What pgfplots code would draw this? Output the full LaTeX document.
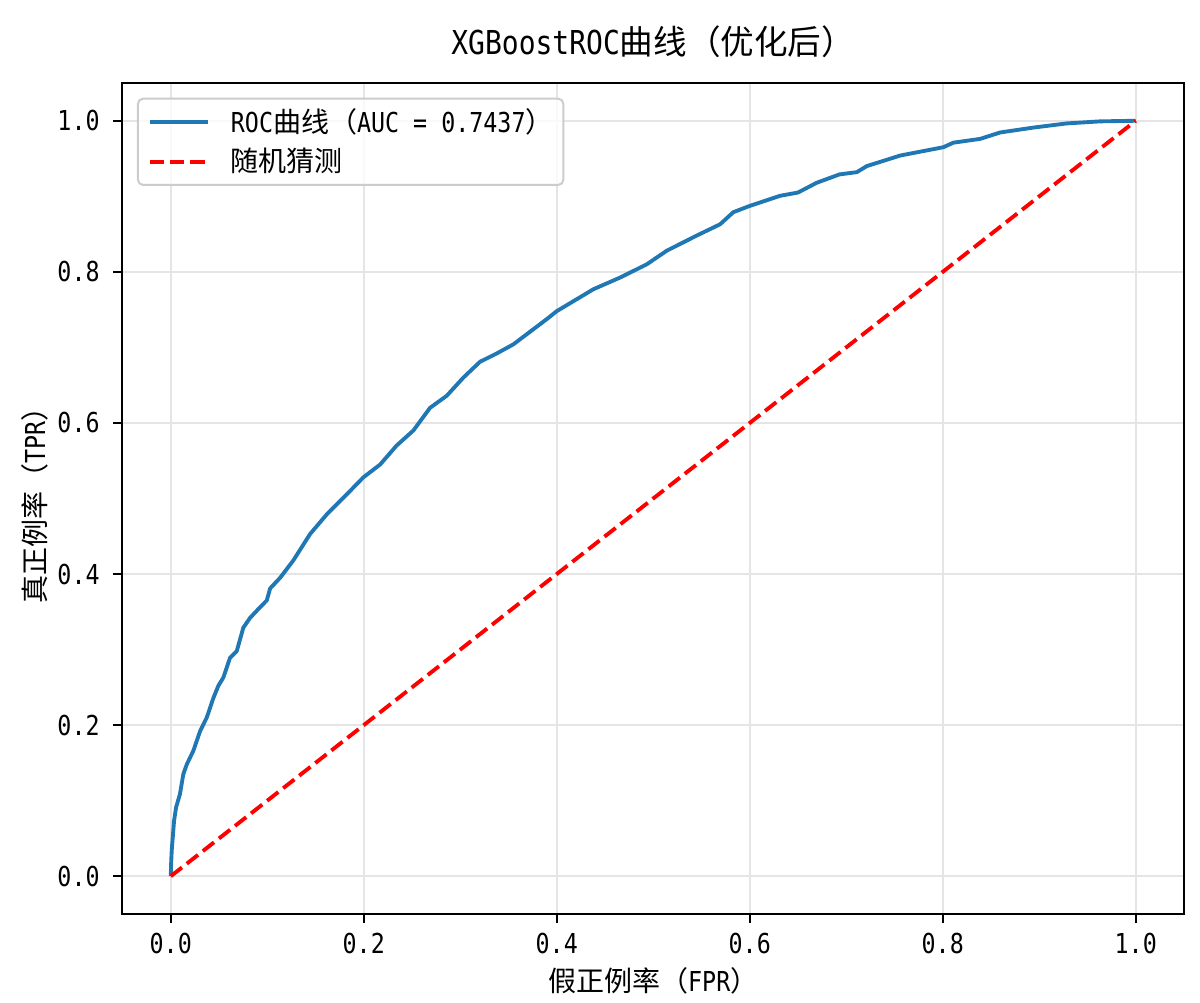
\documentclass[border=0pt]{standalone}
\usepackage{fontspec}
\setmainfont{Noto Sans CJK SC}
\newfontfamily\lt[FakeStretch=0.85,Scale=0.98]{DejaVu Sans Mono}
\usepackage{pgfplots}
\pgfplotsset{compat=1.18}
\definecolor{mplblue}{HTML}{1F77B4}
\definecolor{gridc}{HTML}{E5E5E5}
\definecolor{legendc}{HTML}{CCCCCC}
\newcommand\lstrut{\rule[-2pt]{0pt}{12pt}}
\begin{document}
\begin{tikzpicture}
\path[use as bounding box] (0,0) rectangle (600pt,501pt);
\begin{axis}[
    at={(61.25pt,44pt)}, anchor=south west,
    scale only axis, width=530.75pt, height=415.5pt,
    xmin=-0.05, xmax=1.05, ymin=-0.05, ymax=1.05,
    xtick={0,0.2,0.4,0.6,0.8,1},
    ytick={0,0.2,0.4,0.6,0.8,1},
    xticklabels={0.0,0.2,0.4,0.6,0.8,1.0},
    yticklabels={0.0,0.2,0.4,0.6,0.8,1.0},
    tick pos=left, tick align=outside,
    major tick length=4.5pt,
    tick style={line width=1pt, black},
    axis line style={line width=1pt},
    grid=major, grid style={line width=1pt, gridc},
    ticklabel style={font=\fontsize{14}{16}\selectfont\lt, inner sep=0pt},
    xticklabel style={anchor=base, yshift=-15.15pt},
    yticklabel style={anchor=east, xshift=-6.75pt},
    title={{\lt XGBoostROC}曲线（优化后）},
    title style={at={(axis description cs:0.5,1.0196)}, anchor=base, inner sep=0pt,
        font=\fontsize{16.8}{20}\selectfont},
    xlabel={假正例率（{\lt FPR}）},
    ylabel={真正例率（{\lt TPR}）},
    label style={font=\fontsize{14}{16}\selectfont, inner sep=0pt},
    xlabel style={at={(axis description cs:0.5,-0.0935)}, anchor=base},
    ylabel style={at={(axis description cs:-0.073,0.5)}, anchor=base},
    legend style={at={(axis description cs:0,1)}, anchor=north west,
        xshift=7.25pt, yshift=-7.35pt,
        draw=legendc, line width=1pt, rounded corners=2.5pt,
        fill=white, fill opacity=0.8, draw opacity=1, text opacity=1,
        inner xsep=4.85pt, inner ysep=5pt, row sep=6.35pt,
        nodes={inner sep=0pt},
        font=\fontsize{14}{16}\selectfont},
    legend cell align=left,
    legend image code/.code={
        \draw[#1] (0pt,0pt) -- (29.2pt,0pt);
        \path (39.7pt,0pt);
    },
]
\addplot[mplblue, line width=1.93pt, line join=round] coordinates {
    (0,0) (0.0005,0.02) (0.001,0.034) (0.0034,0.073) (0.0055,0.091)
    (0.0096,0.109) (0.013,0.135) (0.0166,0.148) (0.0234,0.166)
    (0.0304,0.192) (0.0373,0.210) (0.0442,0.236) (0.0493,0.252)
    (0.0545,0.263) (0.0614,0.289) (0.0684,0.298) (0.0752,0.329)
    (0.0822,0.342) (0.0925,0.356) (0.0995,0.365) (0.103,0.381)
    (0.1133,0.395) (0.127,0.418) (0.1444,0.453) (0.1617,0.479)
    (0.179,0.501) (0.1996,0.528) (0.217,0.545) (0.234,0.570)
    (0.2514,0.590) (0.2687,0.620) (0.286,0.636) (0.3032,0.660)
    (0.3205,0.681) (0.3378,0.692) (0.355,0.704) (0.3897,0.7375)
    (0.4,0.748) (0.438,0.777) (0.4657,0.7925) (0.4933,0.810)
    (0.514,0.828) (0.545,0.848) (0.5693,0.863) (0.583,0.879)
    (0.6004,0.8875) (0.6315,0.9007) (0.65,0.905) (0.6695,0.918)
    (0.693,0.929) (0.711,0.932) (0.7213,0.940) (0.756,0.954)
    (0.8007,0.965) (0.811,0.971) (0.8387,0.976) (0.8595,0.9845)
    (0.894,0.991) (0.9286,0.9965) (0.963,0.9992) (1,1)
};
\addlegendentry{\lstrut{\lt ROC}曲线（{\lt AUC = 0.7437}）}
\addplot[red, line width=1.93pt, dash pattern=on 7.1pt off 3.1pt] coordinates {
    (0,0) (1,1)
};
\addlegendentry{\lstrut 随机猜测}
\end{axis}
\end{tikzpicture}
\end{document}
